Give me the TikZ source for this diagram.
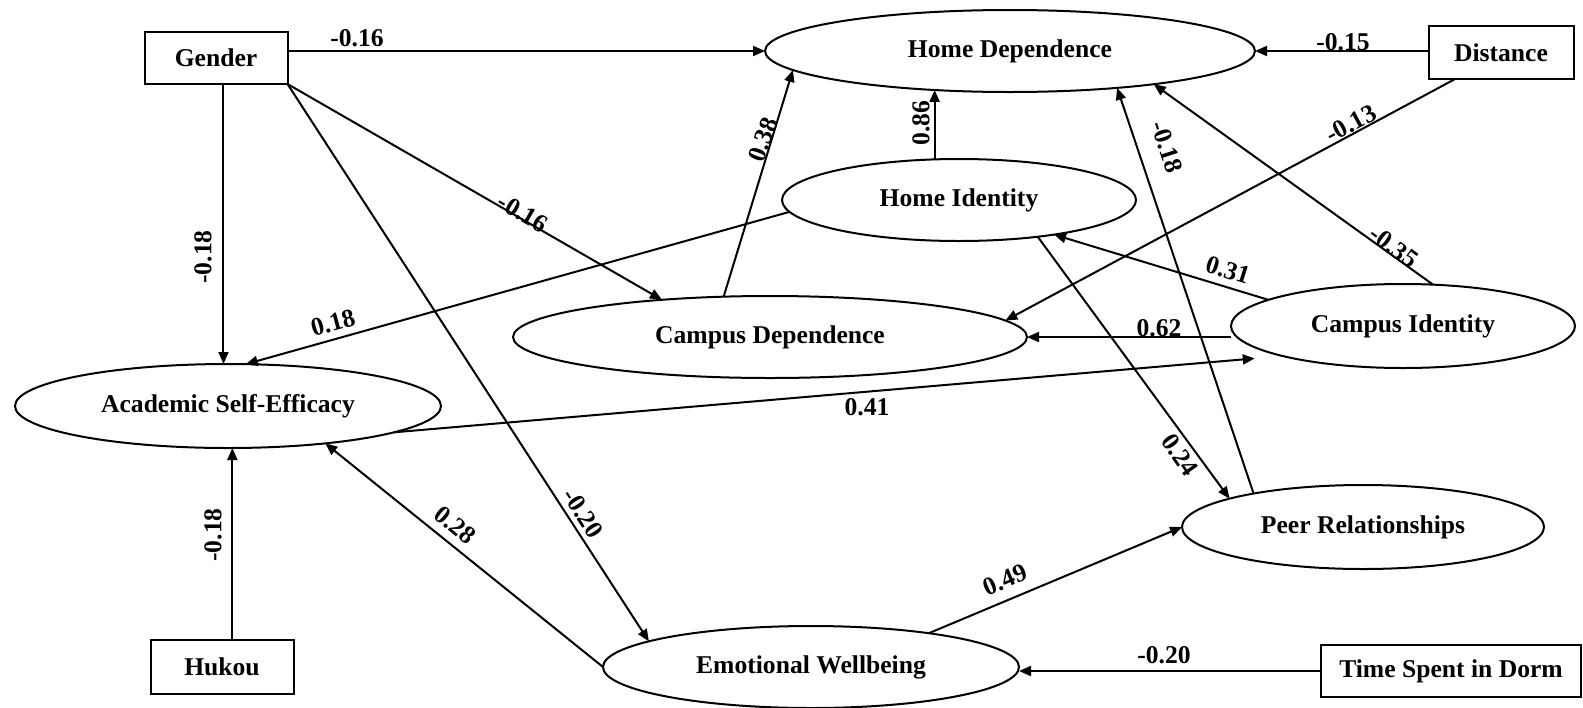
\documentclass[tikz,border=0pt]{standalone}
\usepackage{fontspec}
\setmainfont{Liberation Serif}
\usetikzlibrary{shapes.geometric,arrows.meta,calc}
\begin{document}
\begin{tikzpicture}[x=0.5pt,y=-0.5pt,
  every node/.style={font=\fontsize{12.8}{14}\selectfont\bfseries},
  lat/.style={ellipse, draw, line width=1pt, inner sep=0pt, outer sep=0pt},
  obs/.style={rectangle, draw, line width=1pt, inner sep=0pt, outer sep=0pt},
  pth/.style={line width=1pt, -{Triangle[length=6pt,width=5pt]}},
  lab/.style={inner sep=0pt}
]
\useasboundingbox (0,0) rectangle (1583,707);
% observed variables
\node[obs, minimum width=71.5pt, minimum height=26pt] (gender) at (216,58) {Gender};
\node[obs, minimum width=72.5pt, minimum height=26.5pt] (distance) at (1501,52.5) {Distance};
\node[obs, minimum width=71.5pt, minimum height=27pt] (hukou) at (222,667) {Hukou};
\node[obs, minimum width=130pt, minimum height=26pt] (dorm) at (1451,671) {Time Spent in Dorm};
% latent variables
\node[lat, minimum width=245pt, minimum height=41pt] (hd) at (1010,51) {Home Dependence};
\node[lat, minimum width=177pt, minimum height=41pt] (hi) at (959,200) {Home Identity};
\node[lat, minimum width=257pt, minimum height=41pt] (cd) at (770,337) {Campus Dependence};
\node[lat, minimum width=172pt, minimum height=42pt] (ci) at (1403,326) {Campus Identity};
\node[lat, minimum width=213pt, minimum height=42pt] (ase) at (228,406) {Academic Self-Efficacy};
\node[lat, minimum width=181pt, minimum height=42pt] (peer) at (1363,527) {Peer Relationships};
\node[lat, minimum width=208pt, minimum height=41pt] (ew) at (811,667) {Emotional Wellbeing};
% paths
\draw[pth] (gender.east |- hd.west) -- (hd.west);
\draw[pth] (distance.west |- hd.east) -- (hd.east);
\draw[pth] (gender.-74.9) -- (gender.-74.9 |- ase.north);
\draw[pth] (hukou.69.7) -- (hukou.69.7 |- ase.south);
\draw[pth] (gender.south east) -- (cd.161.3);
\draw[pth] (gender.south east) -- (ew.171.3);
\draw[pth] (cd.139.2) -- (hd.185.7);
\draw[pth] (hi.121.6) -- (hi.121.6 |- hd.207.2);
\draw[pth] (hi.184.2) -- (ase.67.6);
\draw[pth] (distance.210.9) -- (cd.4.05);
\draw[pth] (ci.54.7) -- (hd.347.9);
\draw[pth] (peer.163.1) -- (hd.341.9);
\draw[pth] (ci.169.4) -- (hi.340.3);
\draw[pth] (ci.west |- cd.east) -- (cd.east);
\draw[pth, shorten >=14pt] (ase.351.6) -- (ci.194.1);
\draw[pth] (hi.335.6) -- (peer.168.05);
\draw[pth] (ew.west) -- (ase.339.6);
\draw[pth] (ew.16.7) -- (peer.west);
\draw[pth] (dorm.west) -- (dorm.west -| ew.east);
% coefficients
\node[lab] (l1) at (357,38) {-0.16};
\node[lab] (l2) at (1343,42) {-0.15};
\node[lab, rotate=90] (l3) at (203,257) {-0.18};
\node[lab, rotate=-30] (l4) at (523,213) {-0.16};
\node[lab, rotate=-57.1] (l5) at (583,513) {-0.20};
\node[lab, rotate=70.3] (l6) at (763,140) {0.38};
\node[lab, rotate=90] (l7) at (921,123) {0.86};
\node[lab, rotate=15.3] (l8) at (333,323) {0.18};
\node[lab, rotate=28.2] (l9) at (1351,124) {-0.13};
\node[lab, rotate=-36.5] (l10) at (1394,247) {-0.35};
\node[lab, rotate=-72.1] (l11) at (1167,147) {-0.18};
\node[lab, rotate=-17.3] (l12) at (1228,270) {0.31};
\node[lab] (l13) at (1159,328) {0.62};
\node[lab] (l14) at (867,407) {0.41};
\node[lab, rotate=-55] (l15) at (1180,455) {0.24};
\node[lab, rotate=-39.3] (l16) at (455,525) {0.28};
\node[lab, rotate=22.8] (l17) at (1005,580) {0.49};
\node[lab] (l18) at (1164,655) {-0.20};
\node[lab, rotate=90] (l19) at (213,535) {-0.18};
\end{tikzpicture}
\end{document}
